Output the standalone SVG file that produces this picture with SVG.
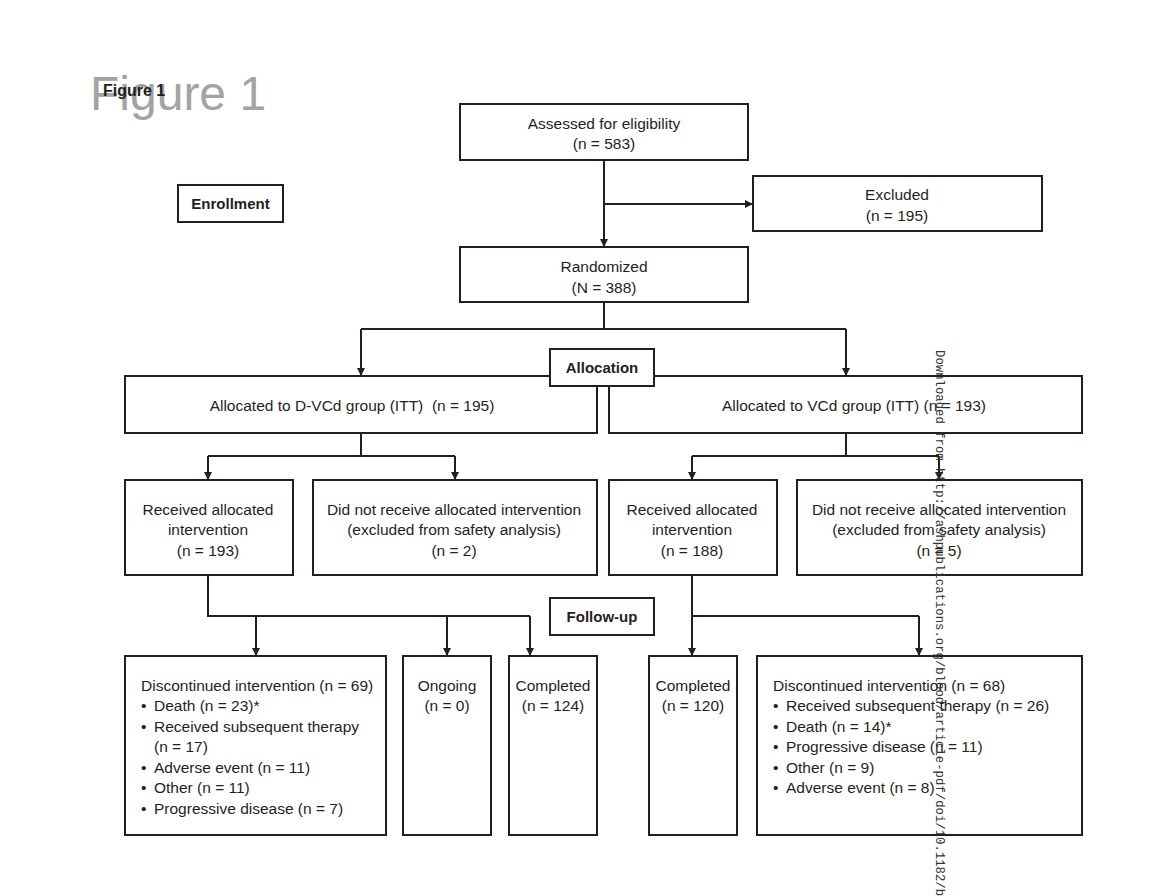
<svg xmlns="http://www.w3.org/2000/svg" width="1154" height="896" viewBox="0 0 1154 896">
<defs>
<marker id="ah" viewBox="0 0 10 10" refX="10" refY="5" markerWidth="8" markerHeight="8" markerUnits="userSpaceOnUse" orient="auto">
<path d="M0,0 L10,5 L0,10 z" fill="#231f20"/>
</marker>
<style>
.box{fill:#fff;stroke:#231f20;stroke-width:2}
.t{font-family:"Liberation Sans",Arial,sans-serif;font-size:15.5px;fill:#231f20}
.c{text-anchor:middle}
.b{font-family:"Liberation Sans",Arial,sans-serif;font-size:15px;font-weight:bold;fill:#231f20;text-anchor:middle}
.ln{fill:none;stroke:#231f20;stroke-width:2}
.ar{fill:none;stroke:#231f20;stroke-width:2;marker-end:url(#ah)}
</style>
</defs>
<rect width="1154" height="896" fill="#fff"/>
<text x="90" y="110" font-family="Liberation Sans,Arial,sans-serif" font-size="48" fill="#a3a3a3">Figure 1</text>
<text x="103" y="96" font-family="Liberation Sans,Arial,sans-serif" font-size="16" font-weight="bold" fill="#231f20">Figure 1</text>

<g id="connectors">
<path class="ar" d="M604,160 V247"/>
<path class="ar" d="M604,204 H753"/>
<path class="ln" d="M604,302 V329 M361,329 H846"/>
<path class="ar" d="M361,329 V376"/>
<path class="ar" d="M846,329 V376"/>
<path class="ln" d="M361,433 V456 M208,456 H455"/>
<path class="ar" d="M208,456 V480"/>
<path class="ar" d="M455,456 V480"/>
<path class="ln" d="M846,433 V456 M692,456 H939"/>
<path class="ar" d="M692,456 V480"/>
<path class="ar" d="M939,456 V480"/>
<path class="ln" d="M208,575 V616 H530"/>
<path class="ar" d="M256,616 V656"/>
<path class="ar" d="M447,616 V656"/>
<path class="ar" d="M530,616 V656"/>
<path class="ln" d="M692,575 V616 H919"/>
<path class="ar" d="M692,616 V656"/>
<path class="ar" d="M919,616 V656"/>
</g>

<g id="enrollment"><rect class="box" x="178" y="185" width="105" height="37"/><text class="b" x="230.5" y="209">Enrollment</text></g>
<g id="assessed"><rect class="box" x="460" y="104" width="288" height="56"/>
<text class="t c" x="604" y="129">Assessed for eligibility</text><text class="t c" x="604" y="149">(n = 583)</text></g>
<g id="excluded"><rect class="box" x="753" y="176" width="289" height="55"/>
<text class="t c" x="897" y="200">Excluded</text><text class="t c" x="897" y="221">(n = 195)</text></g>
<g id="randomized"><rect class="box" x="460" y="247" width="288" height="55"/>
<text class="t c" x="604" y="272">Randomized</text><text class="t c" x="604" y="293">(N = 388)</text></g>

<g id="alloc-dvcd"><rect class="box" x="125" y="376" width="472" height="57"/>
<text class="t c" x="352" y="411" xml:space="preserve">Allocated to D-VCd group (ITT)  (n = 195)</text></g>
<g id="alloc-vcd"><rect class="box" x="609" y="376" width="473" height="57"/>
<text class="t c" x="854" y="411">Allocated to VCd group (ITT) (n = 193)</text></g>
<g id="allocation"><rect class="box" x="550" y="349" width="104" height="37"/><text class="b" x="602" y="373">Allocation</text></g>

<g id="recv-left"><rect class="box" x="125" y="480" width="168" height="95"/>
<text class="t c" x="208" y="515">Received allocated</text><text class="t c" x="208" y="535">intervention</text><text class="t c" x="208" y="556">(n = 193)</text></g>
<g id="notrecv-left"><rect class="box" x="313" y="480" width="284" height="95"/>
<text class="t c" x="454" y="515">Did not receive allocated intervention</text><text class="t c" x="454" y="535">(excluded from safety analysis)</text><text class="t c" x="454" y="556">(n = 2)</text></g>
<g id="recv-right"><rect class="box" x="609" y="480" width="168" height="95"/>
<text class="t c" x="692" y="515">Received allocated</text><text class="t c" x="692" y="535">intervention</text><text class="t c" x="692" y="556">(n = 188)</text></g>
<g id="notrecv-right"><rect class="box" x="797" y="480" width="285" height="95"/>
<text class="t c" x="939" y="515">Did not receive allocated intervention</text><text class="t c" x="939" y="535">(excluded from safety analysis)</text><text class="t c" x="939" y="556">(n = 5)</text></g>

<g id="followup"><rect class="box" x="550" y="598" width="104" height="37"/><text class="b" x="602" y="622">Follow-up</text></g>

<g id="disc-left"><rect class="box" x="125" y="656" width="261" height="179"/>
<text class="t" x="141" y="691">Discontinued intervention (n = 69)</text>
<text class="t" y="711"><tspan x="141">•</tspan><tspan x="154">Death (n = 23)*</tspan></text>
<text class="t" y="732"><tspan x="141">•</tspan><tspan x="154">Received subsequent therapy</tspan></text>
<text class="t" x="154" y="752">(n = 17)</text>
<text class="t" y="773"><tspan x="141">•</tspan><tspan x="154">Adverse event (n = 11)</tspan></text>
<text class="t" y="793"><tspan x="141">•</tspan><tspan x="154">Other (n = 11)</tspan></text>
<text class="t" y="814"><tspan x="141">•</tspan><tspan x="154">Progressive disease (n = 7)</tspan></text></g>
<g id="ongoing"><rect class="box" x="403" y="656" width="88" height="179"/>
<text class="t c" x="447" y="691">Ongoing</text><text class="t c" x="447" y="711">(n = 0)</text></g>
<g id="completed-left"><rect class="box" x="509" y="656" width="88" height="179"/>
<text class="t c" x="553" y="691">Completed</text><text class="t c" x="553" y="711">(n = 124)</text></g>
<g id="completed-right"><rect class="box" x="649" y="656" width="88" height="179"/>
<text class="t c" x="693" y="691">Completed</text><text class="t c" x="693" y="711">(n = 120)</text></g>
<g id="disc-right"><rect class="box" x="757" y="656" width="325" height="179"/>
<text class="t" x="773" y="691">Discontinued intervention (n = 68)</text>
<text class="t" y="711"><tspan x="773">•</tspan><tspan x="786">Received subsequent therapy (n = 26)</tspan></text>
<text class="t" y="732"><tspan x="773">•</tspan><tspan x="786">Death (n = 14)*</tspan></text>
<text class="t" y="752"><tspan x="773">•</tspan><tspan x="786">Progressive disease (n = 11)</tspan></text>
<text class="t" y="773"><tspan x="773">•</tspan><tspan x="786">Other (n = 9)</tspan></text>
<text class="t" y="793"><tspan x="773">•</tspan><tspan x="786">Adverse event (n = 8)</tspan></text></g>

<text transform="translate(936,350) rotate(90)" font-family="Liberation Mono,Courier New,monospace" font-size="12.3" fill="#333">Downloaded from http://ashpublications.org/blood/article-pdf/doi/10.1182/b</text>
</svg>
